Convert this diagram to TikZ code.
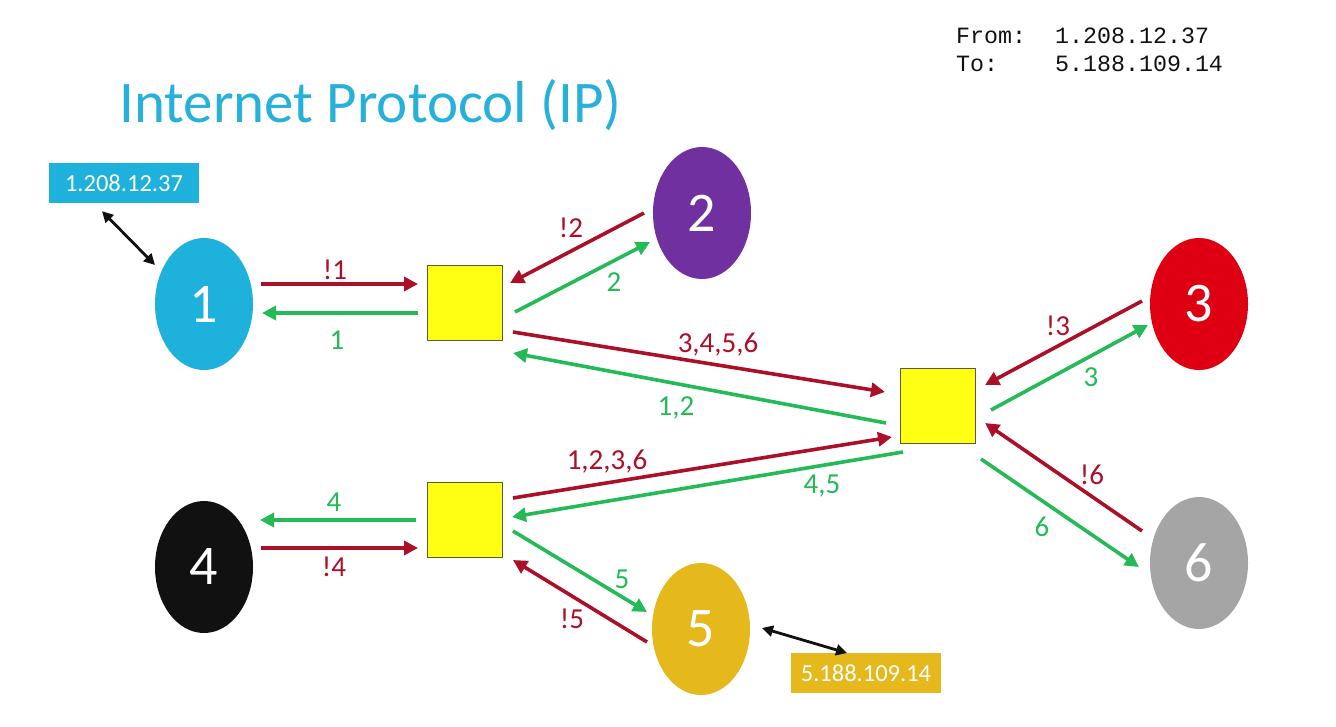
\documentclass[tikz,border=0pt]{standalone}
\usepackage{fontspec}
\setmainfont{Carlito}
\setmonofont{Liberation Mono}
\usetikzlibrary{shapes.geometric,arrows.meta}

\definecolor{ipcyan}{RGB}{30,177,220}
\definecolor{iptitle}{RGB}{39,177,218}
\definecolor{ippurple}{RGB}{112,48,160}
\definecolor{ipred}{RGB}{222,0,18}
\definecolor{ipblack}{RGB}{17,17,17}
\definecolor{ipgold}{RGB}{229,184,28}
\definecolor{ipgray}{RGB}{165,165,165}
\definecolor{sendred}{RGB}{172,16,40}
\definecolor{backgreen}{RGB}{36,186,88}
\definecolor{routerfill}{RGB}{255,255,20}
\definecolor{routeredge}{RGB}{90,90,70}

\tikzset{
  host/.style={ellipse, fill=#1, draw=none, minimum width=98pt, minimum height=132pt,
    inner sep=0pt, text=white, font=\fontsize{56}{60}\selectfont},
  router/.style={rectangle, fill=routerfill, draw=routeredge, line width=1.2pt,
    minimum size=75pt, inner sep=0pt},
  addrbox/.style={rectangle, fill=#1, draw=none, minimum width=150pt, minimum height=40pt,
    inner sep=0pt, text=white, font=\fontsize{24.5}{28}\selectfont},
  req/.style={draw=sendred, line width=3.6pt, -{Triangle[length=14pt,width=14pt]}},
  rep/.style={draw=backgreen, line width=3.6pt, -{Triangle[length=14pt,width=14pt]}},
  reqlbl/.style={text=sendred, font=\fontsize{29}{32}\selectfont, inner sep=0pt},
  replbl/.style={text=backgreen, font=\fontsize{29}{32}\selectfont, inner sep=0pt},
  link/.style={draw=ipblack, line width=2.8pt, {Triangle[length=11pt,width=11pt]}-{Triangle[length=11pt,width=11pt]}},
  monotext/.style={anchor=base west, inner sep=0pt, font=\ttfamily\fontsize{23.3}{26}\selectfont, text=ipblack},
}

\begin{document}
\begin{tikzpicture}[x=1pt, y=-1pt]
  \useasboundingbox (0,0) rectangle (1336,726);

  % heading and packet header
  \node[anchor=base west, inner sep=0pt, text=iptitle, font=\fontsize{59}{66}\selectfont] (title) at (119,122) {Internet Protocol (IP)};
  \node[monotext] (fromkey) at (956,43) {From:};
  \node[monotext] (fromval) at (1055,43) {1.208.12.37};
  \node[monotext] (tokey)   at (956,71) {To:};
  \node[monotext] (toval)   at (1055,71) {5.188.109.14};

  % hosts
  \node[host=ipcyan]   (n1) at (204,304) {1};
  \node[host=ippurple] (n2) at (702,213) {2};
  \node[host=ipred]    (n3) at (1199,304) {3};
  \node[host=ipblack]  (n4) at (204,567) {4};
  \node[host=ipgold]   (n5) at (701,629) {5};
  \node[host=ipgray]   (n6) at (1199,563) {6};

  % routers
  \node[router] (ra) at (465,303) {};
  \node[router] (rb) at (938,406) {};
  \node[router] (rc) at (465,520) {};

  % addresses
  \node[addrbox=ipcyan] (a1) at (124,183) {1.208.12.37};
  \node[addrbox=ipgold] (a5) at (866,673) {5.188.109.14};
  \draw[link] ([shift={(-22,8)}]a1.south) -- ([shift={(-49,-39)}]n1.center);
  \draw[link] ([shift={(61,-1)}]n5.center) -- ([shift={(-19,-20)}]a5.center);

  % host 1 <-> router a
  \draw[req] ([shift={(57,-20)}]n1.center) -- ([shift={(-47,-19)}]ra.center);
  \draw[rep] ([shift={(-47,10)}]ra.center) -- ([shift={(58,9)}]n1.center);
  \node[reqlbl] (l1a) at (335,270) {!1};
  \node[replbl] (l1b) at (337,340) {1};

  % host 2 <-> router a
  \draw[req] ([shift={(-58,0)}]n2.center) -- ([shift={(45,-20)}]ra.center);
  \draw[rep] ([shift={(50,9)}]ra.center) -- ([shift={(-52,29)}]n2.center);
  \node[reqlbl] (l2a) at (571,228) {!2};
  \node[replbl] (l2b) at (614,282) {2};

  % router a <-> router b
  \draw[req] ([shift={(48,29)}]ra.center) -- ([shift={(-53,-14)}]rb.center);
  \draw[rep] ([shift={(-52,17)}]rb.center) -- ([shift={(48,50)}]ra.center);
  \node[reqlbl] (lab1) at (718,345) {3,4,5,6};
  \node[replbl] (lab2) at (676,408) {1,2};

  % router c <-> router b
  \draw[req] ([shift={(48,-22)}]rc.center) -- ([shift={(-46,31)}]rb.center);
  \draw[rep] ([shift={(-35,46)}]rb.center) -- ([shift={(47,-3)}]rc.center);
  \node[reqlbl] (lcb1) at (607,462) {1,2,3,6};
  \node[replbl] (lcb2) at (822,486) {4,5};

  % host 4 <-> router c
  \draw[rep] ([shift={(-49,0)}]rc.center) -- ([shift={(56,-47)}]n4.center);
  \draw[req] ([shift={(57,-19)}]n4.center) -- ([shift={(-47,28)}]rc.center);
  \node[replbl] (l4b) at (334,502) {4};
  \node[reqlbl] (l4a) at (334,567) {!4};

  % host 5 <-> router c
  \draw[rep] ([shift={(48,11)}]rc.center) -- ([shift={(-54,-17)}]n5.center);
  \draw[req] ([shift={(-54,13)}]n5.center) -- ([shift={(48,40)}]rc.center);
  \node[replbl] (l5b) at (622,579) {5};
  \node[reqlbl] (l5a) at (572,619) {!5};

  % host 3 <-> router b
  \draw[req] ([shift={(-57,-3)}]n3.center) -- ([shift={(47,-21)}]rb.center);
  \draw[rep] ([shift={(53,4)}]rb.center) -- ([shift={(-51,21)}]n3.center);
  \node[reqlbl] (l3a) at (1058,326) {!3};
  \node[replbl] (l3b) at (1091,377) {3};

  % host 6 <-> router b
  \draw[req] ([shift={(-57,-32)}]n6.center) -- ([shift={(47,17)}]rb.center);
  \draw[rep] ([shift={(43,53)}]rb.center) -- ([shift={(-60,4)}]n6.center);
  \node[reqlbl] (l6a) at (1092,475) {!6};
  \node[replbl] (l6b) at (1042,527) {6};
\end{tikzpicture}
\end{document}
